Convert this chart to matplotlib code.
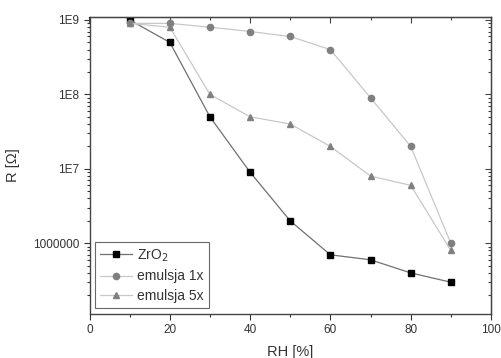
import numpy as np
import matplotlib
matplotlib.use('Agg')
import matplotlib.pyplot as plt
from matplotlib.ticker import FixedLocator, LogLocator, FuncFormatter, MultipleLocator

plt.rcParams['font.family'] = ['Liberation Sans', 'DejaVu Sans']

rh = [10, 20, 30, 40, 50, 60, 70, 80, 90]
zro2 = [1e9, 5e8, 5e7, 9e6, 2e6, 7e5, 6e5, 4e5, 3e5]
emul_1x = [9e8, 9e8, 8e8, 7e8, 6e8, 4e8, 9e7, 2e7, 1e6]
emul_5x = [9e8, 8e8, 1e8, 5e7, 4e7, 2e7, 8e6, 6e6, 8e5]

ytick_vals = [1e6, 1e7, 1e8, 1e9]
ytick_labels = ['1000000', '1E7', '1E8', '1E9']

fig = plt.figure(figsize=(5.01, 3.58), dpi=100)
ax = fig.add_axes([89.5/501, 1 - 314/358, (491 - 89.5)/501, (314 - 17)/358])

ax.plot(rh, zro2, color='#707070', lw=0.9, marker='s', ms=4,
        mfc='black', mec='black', label='ZrO$_2$')
ax.plot(rh, emul_1x, color='#c8c8c8', lw=0.9, marker='o', ms=4.5,
        mfc='#808080', mec='#808080', label='emulsja 1x')
ax.plot(rh, emul_5x, color='#c8c8c8', lw=0.9, marker='^', ms=5,
        mfc='#808080', mec='#808080', label='emulsja 5x')

ax.set_yscale('log')
ax.set_xlim(0, 100)
ax.set_ylim(10**5.05, 10**9.04)

ax.xaxis.set_major_locator(MultipleLocator(20))
ax.xaxis.set_minor_locator(MultipleLocator(10))
ax.yaxis.set_major_locator(FixedLocator(ytick_vals))
ax.yaxis.set_major_formatter(FuncFormatter(
    lambda v, p: dict(zip(ytick_vals, ytick_labels)).get(v, '')))
ax.yaxis.set_minor_locator(LogLocator(base=10, subs=np.arange(2, 10), numticks=20))

ax.tick_params(which='both', direction='out', labelsize=8.5, colors='#333333',
               width=0.8)
ax.tick_params(which='major', length=4)
ax.tick_params(which='minor', length=2.5)

for sp in ax.spines.values():
    sp.set_color('#444444')
    sp.set_linewidth(1.0)

# mirrored ticks on top/right, pointing inward
axt = ax.secondary_xaxis('top')
axt.xaxis.set_major_locator(MultipleLocator(20))
axt.xaxis.set_minor_locator(MultipleLocator(10))
axt.tick_params(which='both', direction='in', labeltop=False, colors='#444444', width=0.8)
axt.tick_params(which='major', length=4)
axt.tick_params(which='minor', length=2.5)
axr = ax.secondary_yaxis('right')
axr.yaxis.set_major_locator(FixedLocator(ytick_vals))
axr.yaxis.set_minor_locator(LogLocator(base=10, subs=np.arange(2, 10), numticks=20))
axr.tick_params(which='both', direction='in', labelright=False, colors='#444444', width=0.8)
axr.tick_params(which='major', length=4)
axr.tick_params(which='minor', length=2.5)

ax.set_xlabel('RH [%]', fontsize=10.5, color='#333333', labelpad=6)
ax.set_ylabel('R [Ω]', fontsize=10.5, color='#333333', labelpad=9)

leg = ax.legend(loc='lower left', fontsize=10, frameon=True, fancybox=False,
                edgecolor='#444444', handlelength=2.3, handletextpad=0.4,
                borderpad=0.35, labelspacing=0.42, borderaxespad=0,
                bbox_to_anchor=(0.013, 0.02))
leg.get_frame().set_linewidth(0.8)
for t in leg.get_texts():
    t.set_color('#333333')

fig.savefig('out.png', dpi=100)
